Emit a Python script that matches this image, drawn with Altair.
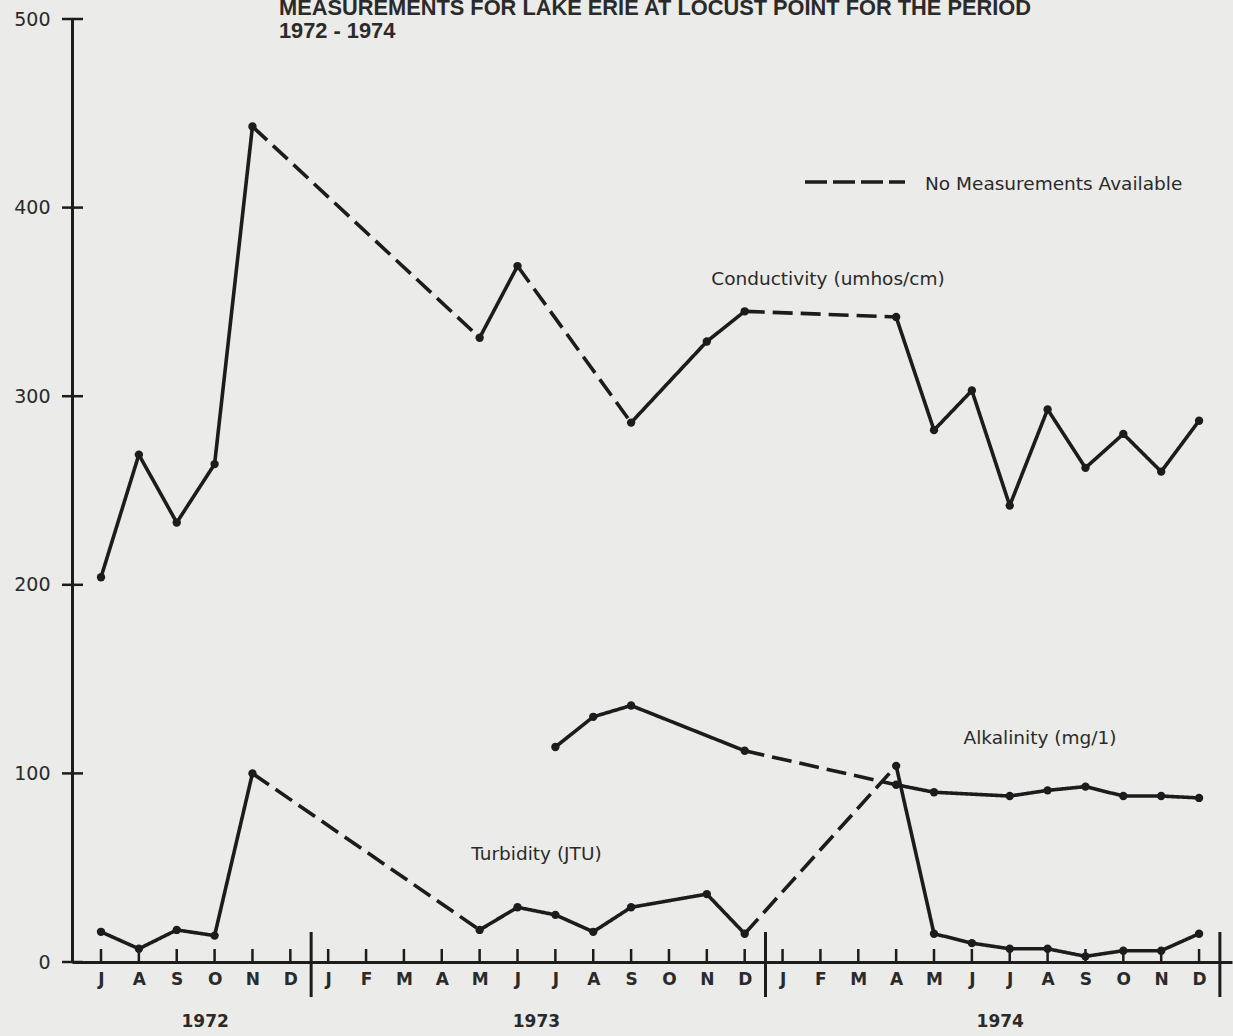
import altair as alt
import pandas as pd

# ---------------- data ----------------
month_labels = ["J", "A", "S", "O", "N", "D",
                "J", "F", "M", "A", "M", "J", "J", "A", "S", "O", "N", "D",
                "J", "F", "M", "A", "M", "J", "J", "A", "S", "O", "N", "D"]
year_labels = ["1972", "1973", "1974"]
year_label_pos = [2.75, 11.5, 23.75]
year_dividers = [5.55, 17.55, 29.55]
y_tick_values = [0, 100, 200, 300, 400, 500]

title_lines = ["MEASUREMENTS FOR LAKE ERIE AT LOCUST POINT FOR THE PERIOD", "1972 - 1974"]
legend_text = "No Measurements Available"

# month index: 0 = Jul 1972 ... 29 = Dec 1974
cond_x = [0, 1, 2, 3, 4, 10, 11, 14, 16, 17, 21, 22, 23, 24, 25, 26, 27, 28, 29]
cond_y = [204, 269, 233, 264, 443, 331, 369, 286, 329, 345, 342, 282, 303, 242, 293, 262, 280, 260, 287]
cond_dashed = [0, 0, 0, 0, 1, 0, 1, 0, 0, 1, 0, 0, 0, 0, 0, 0, 0, 0]

turb_x = [0, 1, 2, 3, 4, 10, 11, 12, 13, 14, 16, 17, 21, 22, 23, 24, 25, 26, 27, 28, 29]
turb_y = [16, 7, 17, 14, 100, 17, 29, 25, 16, 29, 36, 15, 104, 15, 10, 7, 7, 3, 6, 6, 15]
turb_dashed = [0, 0, 0, 0, 1, 0, 0, 0, 0, 0, 0, 1, 0, 0, 0, 0, 0, 0, 0, 0]

alk_x = [12, 13, 14, 17, 21, 22, 24, 25, 26, 27, 28, 29]
alk_y = [114, 130, 136, 112, 94, 90, 88, 91, 93, 88, 88, 87]
alk_dashed = [0, 0, 0, 1, 0, 0, 0, 0, 0, 0, 0]

series_names = ["Conductivity (umhos/cm)", "Alkalinity (mg/1)", "Turbidity (JTU)"]
series_label_x = [19.2, 24.8, 11.5]
series_label_y = [362, 119, 57]

# ---------------- tables ----------------
seg_rows, pt_rows = [], []
for name, xs, ys, ds in [("Conductivity", cond_x, cond_y, cond_dashed),
                         ("Turbidity", turb_x, turb_y, turb_dashed),
                         ("Alkalinity", alk_x, alk_y, alk_dashed)]:
    for i in range(len(xs) - 1):
        seg_rows.append({"series": name, "x": xs[i], "x2": xs[i + 1],
                         "y": ys[i], "y2": ys[i + 1],
                         "style": "dashed" if ds[i] else "solid"})
    for a, b in zip(xs, ys):
        pt_rows.append({"series": name, "x": a, "y": b})
segs = pd.DataFrame(seg_rows)
pts = pd.DataFrame(pt_rows)

INK = "#1c1c1c"
TXT = "#2a2a2a"
FONT = "DejaVu Sans"

xscale = alt.Scale(domain=[-0.766, 29.87], nice=False, zero=False)
yscale = alt.Scale(domain=[0, 500], nice=False)

label_expr = "[" + ",".join("'" + m + "'" for m in month_labels) + "][datum.value]"

XAXIS = alt.Axis(values=list(range(30)), labelExpr=label_expr, ticks=False, grid=False,
                 title=None, domainColor=INK, domainWidth=3, labelFont=FONT,
                 labelFontWeight="bold", labelFontSize=17, labelColor=TXT,
                 labelPadding=9, labelFlush=False)
YAXIS = alt.Axis(values=y_tick_values, ticks=False, grid=False, title=None,
                 domainColor=INK, domainWidth=3, labelFont=FONT, labelFontSize=19,
                 labelColor=TXT, labelPadding=22)


def X(field):
    return alt.X(field, scale=xscale, axis=XAXIS)


def Y(field):
    return alt.Y(field, scale=yscale, axis=YAXIS)


lines = alt.Chart(segs).mark_rule(strokeWidth=3.6, color=INK, strokeCap="butt").encode(
    x=X("x:Q"), x2="x2:Q",
    y=Y("y:Q"), y2="y2:Q",
    strokeDash=alt.StrokeDash("style:N", scale=alt.Scale(domain=["solid", "dashed"],
                                                         range=[[1, 0], [20, 8]]), legend=None),
)

points = alt.Chart(pts).mark_circle(size=70, color=INK, opacity=1).encode(
    x=X("x:Q"), y=Y("y:Q"),
)

xticks = alt.Chart(pd.DataFrame({"x": list(range(30))})).mark_rule(color=INK, strokeWidth=2.5).encode(
    x=X("x:Q"), y=alt.value(930), y2=alt.value(943),
)

yticks = alt.Chart(pd.DataFrame({"y": y_tick_values})).mark_rule(color=INK, strokeWidth=2.5).encode(
    y=Y("y:Q"), x=alt.value(-10), x2=alt.value(11),
)

dividers = alt.Chart(pd.DataFrame({"x": year_dividers})).mark_rule(color=INK, strokeWidth=3).encode(
    x=X("x:Q"), y=alt.value(913), y2=alt.value(978),
)

years = alt.Chart(pd.DataFrame({"x": year_label_pos, "t": year_labels})).mark_text(
    font=FONT, fontWeight="bold", fontSize=17, color=TXT, baseline="middle", align="center"
).encode(x=X("x:Q"), y=alt.value(1003), text="t:N")

slabels = alt.Chart(pd.DataFrame({"x": series_label_x, "y": series_label_y, "t": series_names})).mark_text(
    font=FONT, fontSize=18.5, color=TXT, baseline="middle", align="center"
).encode(x=X("x:Q"), y=Y("y:Q"), text="t:N")

legend_line = alt.Chart(pd.DataFrame({"t": [legend_text]})).mark_rule(
    color=INK, strokeWidth=3.4, strokeDash=[22, 6]
).encode(x=alt.value(733), x2=alt.value(833), y=alt.value(163))

legend_lbl = alt.Chart(pd.DataFrame({"t": [legend_text]})).mark_text(
    font=FONT, fontSize=18.5, color=TXT, baseline="middle", align="left"
).encode(x=alt.value(853), y=alt.value(165), text="t:N")

title1 = alt.Chart(pd.DataFrame({"t": [title_lines[0]]})).mark_text(
    font="Liberation Sans", fontWeight="bold", fontSize=21.8, color=TXT, baseline="alphabetic", align="left"
).encode(x=alt.value(207), y=alt.value(-4), text="t:N")

title2 = alt.Chart(pd.DataFrame({"t": [title_lines[1]]})).mark_text(
    font="Liberation Sans", fontWeight="bold", fontSize=21.8, color=TXT, baseline="alphabetic", align="left"
).encode(x=alt.value(207), y=alt.value(19), text="t:N")

chart = alt.layer(
    xticks, yticks, dividers, lines, points, years, slabels, legend_line, legend_lbl, title1, title2
).properties(
    width=1160, height=943,
    autosize=alt.AutoSizeParams(type="none"),
    padding={"left": 72, "top": 19, "right": 1, "bottom": 74},
    background="#ebebe9",
).configure_view(stroke=None)

chart.save("out.html", embed_options={"renderer": "svg", "actions": False})
